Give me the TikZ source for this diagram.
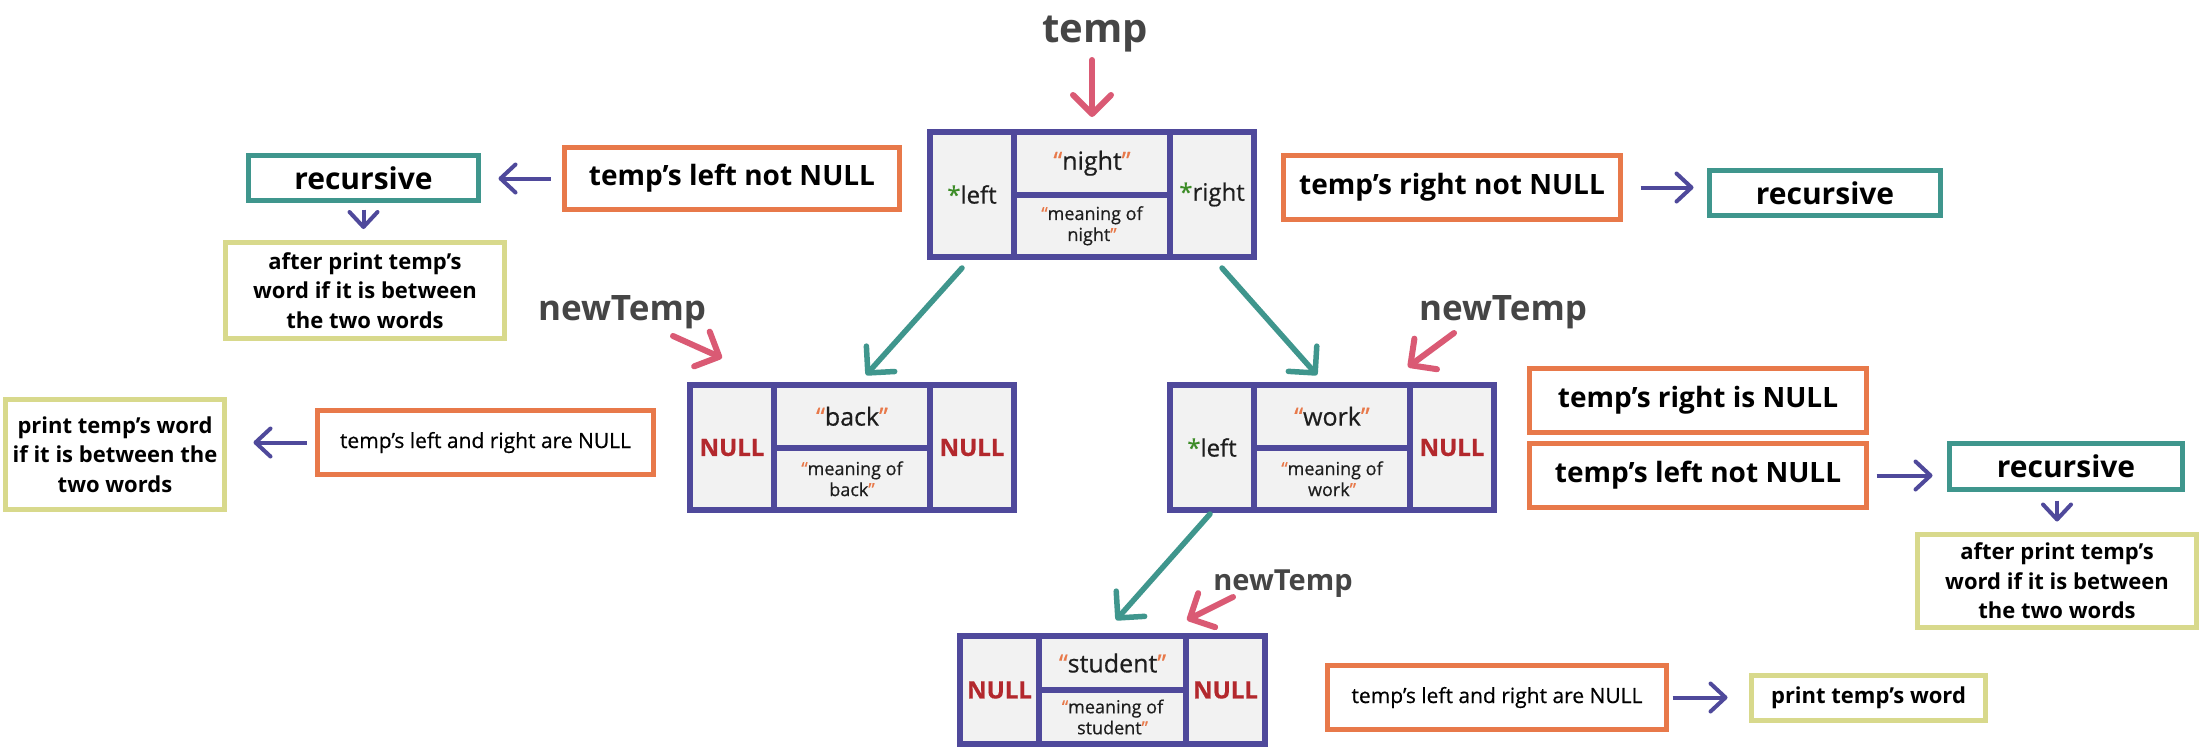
\documentclass[tikz,border=0pt]{standalone}
\usepackage{fontspec}
\setmainfont{Open Sans}
\usetikzlibrary{arrows.meta}

\definecolor{bstpurple}{RGB}{79,73,155}
\definecolor{cellgray}{RGB}{242,242,242}
\definecolor{condorange}{RGB}{232,121,74}
\definecolor{recteal}{RGB}{63,150,141}
\definecolor{actyellow}{RGB}{216,217,140}
\definecolor{handpink}{RGB}{218,90,116}
\definecolor{lblgray}{RGB}{69,69,69}
\definecolor{nullred}{RGB}{179,40,45}
\definecolor{ptrgreen}{RGB}{60,140,39}
\definecolor{textblack}{RGB}{30,30,30}

\newcommand{\qo}{{\color{condorange}“}}
\newcommand{\qc}{{\color{condorange}”}}
\newcommand{\ptrstar}{{\color{ptrgreen}*}}
\newcommand{\nullword}{{\color{nullred}\bfseries NULL}}

\tikzset{
	cell/.style={draw=bstpurple, fill=cellgray, line width=6pt, inner sep=0pt, outer sep=0pt, align=center, text=textblack},
	sidecell/.style={cell, font=\fontsize{24pt}{28pt}\selectfont\addfontfeature{FakeBold=0.5}},
	wordcell/.style={cell, font=\fontsize{25pt}{29pt}\selectfont\addfontfeature{FakeBold=0.5}},
	meancell/.style={cell, font=\fontsize{18pt}{21pt}\selectfont\addfontfeature{FakeBold=0.5}},
	lbl/.style={text=lblgray, inner sep=0pt, font=\bfseries\fontsize{35pt}{40pt}\selectfont},
	cond/.style={draw=condorange, line width=5pt, inner sep=0pt, font=\bfseries\fontsize{28pt}{32pt}\selectfont},
	condsmall/.style={cond, font=\fontsize{21pt}{25pt}\selectfont\addfontfeature{FakeBold=0.5}},
	rec/.style={draw=recteal, line width=5pt, inner sep=0pt, font=\bfseries\fontsize{30pt}{34pt}\selectfont},
	act/.style={draw=actyellow, line width=5pt, inner sep=0pt, align=center, font=\bfseries\fontsize{22pt}{29.5pt}\selectfont},
	ptr/.style={draw=recteal, line width=5.5pt, line cap=round, -{Straight Barb[length=19pt, width=38pt, round]}},
	hand/.style={draw=handpink, line width=6pt, line cap=round, -{Straight Barb[length=19pt, width=38pt, round]}},
	flow/.style={draw=bstpurple, line width=4pt, -{Straight Barb[length=15pt, width=28pt, round]}}
}

\begin{document}
\begin{tikzpicture}[x=1pt, y=-1pt]
	\path[use as bounding box, fill=white] (0,0) rectangle (2207,747);

	\foreach \n/\x/\y/\s/\m/\h/\w/\l/\r in {night/930/132/84/156/125/night/\ptrstar left/\ptrstar right, back/690/385/84/156/125/back/\nullword/\nullword, work/1170/385/84/156/125/work/\ptrstar left/\nullword, student/960/636/79/147/108/student/\nullword/\nullword} {
		\node[sidecell, minimum width=\s pt, minimum height=\h pt] (\n L) at (\x+\s/2, \y+\h/2) {\l};
		\node[wordcell, minimum width=\m pt, minimum height=\h*0.5pt] (\n W) at (\x+\s+\m/2, \y+\h/4) {\qo\w\qc};
		\node[meancell, minimum width=\m pt, minimum height=\h*0.5pt] (\n M) at (\x+\s+\m/2, \y+3*\h/4) {\qo meaning of\\\w\qc};
		\node[sidecell, minimum width=\s pt, minimum height=\h pt] (\n R) at (\x+\s+\m+\s/2, \y+\h/2) {\r};
	}

	\node[lbl, anchor=base, font=\bfseries\fontsize{40pt}{44pt}\selectfont] (templbl) at (1095,42) {temp};
	\node[lbl, anchor=base] (nt1) at (622,320) {newTemp};
	\node[lbl, anchor=base] (nt2) at (1503,320) {newTemp};
	\node[lbl, anchor=base, font=\bfseries\fontsize{29pt}{33pt}\selectfont] (nt3) at (1283,590) {newTemp};

	\draw[hand] ([shift={(-3,18)}]templbl.base) -- ([shift={(0,-15)}]nightW.north);
	\draw[hand] ([shift={(51,16)}]nt1.base) -- ([shift={(-52,-27)}]backL.north east);
	\draw[hand] ([shift={(-49,13)}]nt2.base) -- ([shift={(-2,-18)}]workR.north west);
	\draw[hand] ([shift={(-50,7)}]nt3.base) -- ([shift={(1,-16)}]studentR.north west);

	\draw[ptr] ([shift={(-10,11)}]nightL.south) -- ([shift={(14,-10)}]backW.north);
	\draw[ptr] ([shift={(10,11)}]nightR.south) -- ([shift={(-15,-10)}]workW.north);
	\draw[ptr] ([shift={(-2,4)}]workL.south) -- ([shift={(3.5,-16)}]studentW.north);

	\node[cond, minimum width=335pt, minimum height=62pt] (c1) at (732,178.5) {temp’s left not NULL};
	\node[rec, minimum width=230pt, minimum height=45pt] (r1) at (363.5,178) {recursive};
	\node[act, minimum width=279pt, minimum height=96pt] (a1) at (365,290.5) {after print temp’s\\word if it is between\\the two words};
	\node[cond, minimum width=337pt, minimum height=64pt] (c2) at (1452,187.5) {temp’s right not NULL};
	\node[rec, minimum width=231pt, minimum height=45pt] (r2) at (1825,193) {recursive};
	\node[condsmall, minimum width=336pt, minimum height=64pt] (c3) at (485.5,442.5) {temp’s left and right are NULL};
	\node[act, minimum width=219pt, minimum height=110pt] (a2) at (115,454.5) {print temp’s word\\if it is between the\\two words};
	\node[cond, minimum width=337pt, minimum height=64pt] (c4) at (1698,400.5) {temp’s right is NULL};
	\node[cond, minimum width=337pt, minimum height=64pt] (c5) at (1698,475.5) {temp’s left not NULL};
	\node[rec, minimum width=233pt, minimum height=46pt] (r3) at (2066,466.5) {recursive};
	\node[act, minimum width=279pt, minimum height=93pt] (a3) at (2057,581) {after print temp’s\\word if it is between\\the two words};
	\node[condsmall, minimum width=339pt, minimum height=64pt] (c6) at (1497,697.5) {temp’s left and right are NULL};
	\node[act, minimum width=234pt, minimum height=45pt] (a4) at (1868.5,698) {print temp’s word};

	\draw[flow, shorten <=11.5pt, shorten >=17.5pt] (c1.west) -- (c1.west -| r1.east);
	\draw[flow, shorten <=6.5pt, shorten >=11pt] (r1.south) -- (r1.south |- a1.north);
	\draw[flow, shorten <=17.5pt, shorten >=13.5pt] (c2.east) -- (c2.east -| r2.west);
	\draw[flow, shorten <=8.5pt, shorten >=26.5pt] (c3.west) -- (c3.west -| a2.east);
	\draw[flow, shorten <=7.5pt, shorten >=14.5pt] (c5.east) -- (c5.east -| r3.west);
	\draw[flow, shorten <=8.5pt, shorten >=10.5pt] (a3.north |- r3.south) -- (a3.north);
	\draw[flow, shorten <=3.5pt, shorten >=21.5pt] (c6.east) -- (c6.east -| a4.west);
\end{tikzpicture}
\end{document}
